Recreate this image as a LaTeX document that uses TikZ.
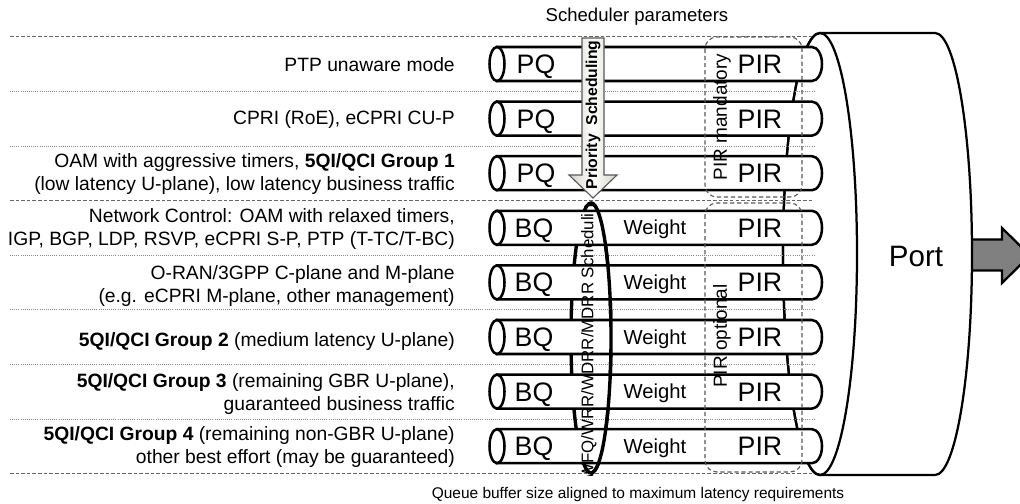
\documentclass[tikz,border=0pt]{standalone}
\usepackage{fontspec}
\setmainfont{Liberation Sans}
\usetikzlibrary{calc}

\begin{document}
\begin{tikzpicture}[x=0.025cm, y=-0.025cm,
    pipe/.style={draw, line width=1.8pt, fill=white},
    sep/.style={draw=black!45, line width=0.5pt, densely dotted},
    sepdash/.style={draw=black!60, line width=0.7pt, dash pattern=on 2.5pt off 1.5pt},
    parbox/.style={draw=black!65, line width=0.8pt, dash pattern=on 3pt off 2pt, rounded corners=8.5pt},
    lab/.style={anchor=east, align=right, inner sep=0pt, font=\fontsize{13.7}{17}\selectfont},
    big/.style={anchor=base, inner sep=0pt, font=\fontsize{19}{22}\selectfont},
    wgt/.style={anchor=base, inner sep=0pt, font=\fontsize{14.4}{16}\selectfont},
    vert/.style={rotate=90, inner sep=0pt, font=\fontsize{13.5}{16}\selectfont}]
    \useasboundingbox (0,0) rectangle (1020,504);
    \draw[line width=1.6pt, fill=black!50] (960,239.5) -- (1002,239.5) -- (1002,228) -- (1030,255.5) -- (1002,283) -- (1002,270.5) -- (960,270.5) -- cycle;
    \coordinate (F) at (820,254);
    \draw[line width=1.6pt, fill=white] (820,33) -- (935,33) arc (-90:90:37 and 221) -- (820,475) arc (90:270:37 and 221) -- cycle;
    \draw[line width=1.6pt] (F) ellipse (37 and 221);
    \node[font=\fontsize{21}{24}\selectfont, anchor=base] (port) at (916,267) {Port};
    \foreach \y in {91.3,145.9,255.1,309.7,364.3,418.9}
        \draw[sep] (10,\y) -- (815,\y);
    \foreach \y in {36.7,200.5,473.5}
        \draw[sepdash] (10,\y) -- (812,\y);
    \draw[line width=2.4pt] (591,338) ellipse (20 and 135);
    \foreach \i in {0,...,7} {
        \pgfmathsetmacro\yc{64+54.6*\i}
        \draw[pipe] (497,\yc-17) -- (812,\yc-17) arc (-90:90:10 and 17) -- (497,\yc+17) -- cycle;
        \draw[pipe] (497,\yc) ellipse (7.5 and 17);
        \node[big] (pir\i) at (760,\yc+9.5) {PIR};
    }
    \draw[line width=2.4pt] (591,203) arc (-90:90:20 and 135);
    \foreach \i in {0,1,2}
        \node[big] (pq\i) at (536,64+54.6*\i+9.5) {PQ};
    \foreach \i in {3,...,7} {
        \node[big] (bq\i) at (534,64+54.6*\i+9.5) {BQ};
        \node[wgt] (w\i) at (655,64+54.6*\i+7.2) {Weight};
    }
    \begin{scope}
        \clip (560,203) rectangle (620,475);
        \node[vert, font=\fontsize{12}{14}\selectfont] (wfq) at (589,337) {WFQ/WRR/WDRR/MDRR Scheduling};
    \end{scope}
    \draw[parbox] (705,37) rectangle (802,197);
    \draw[parbox] (705,203) rectangle (802,472);
    \node[vert] (mand) at (722,117) {PIR mandatory};
    \node[vert] (opt) at (722,336) {PIR optional};
    \draw[draw=black!65, line width=0.8pt, left color={rgb,255:red,214;green,211;blue,196}, right color={rgb,255:red,214;green,211;blue,196}, middle color=white] (582,38) -- (604,38) -- (604,175) -- (617,175) -- (593,198) -- (569,175) -- (582,175) -- cycle;
    \node[rotate=90, inner sep=0pt, font=\fontsize{11.2}{13}\selectfont\bfseries] (prio) at (593,115) {Priority~~Scheduling};
    \node[font=\fontsize{13.2}{15}\selectfont] (par) at (637,17) {Scheduler parameters};
    \node[font=\fontsize{11}{13}\selectfont] (buf) at (638,494) {Queue buffer size aligned to maximum latency requirements};
    \node[lab] (l0) at (455,65) {PTP unaware mode};
    \node[lab] (l1) at (455,119.6) {CPRI (RoE), eCPRI CU-P};
    \node[lab] (l2) at (455,174) {OAM with aggressive timers, \textbf{5QI/QCI Group 1}\\(low latency U-plane), low latency business traffic};
    \node[lab] (l3) at (455,229) {Network Control: OAM with relaxed timers,\\IGP, BGP, LDP, RSVP, eCPRI S-P, PTP (T-TC/T-BC)};
    \node[lab] (l4) at (455,286) {O-RAN/3GPP C-plane and M-plane\\(e.g. eCPRI M-plane, other management)};
    \node[lab] (l5) at (455,342) {\textbf{5QI/QCI Group 2} (medium latency U-plane)};
    \node[lab] (l6) at (455,394) {\textbf{5QI/QCI Group 3} (remaining GBR U-plane),\\guaranteed business traffic};
    \node[lab] (l7) at (455,447) {\textbf{5QI/QCI Group 4} (remaining non-GBR U-plane)\\other best effort (may be guaranteed)};
\end{tikzpicture}
\end{document}
